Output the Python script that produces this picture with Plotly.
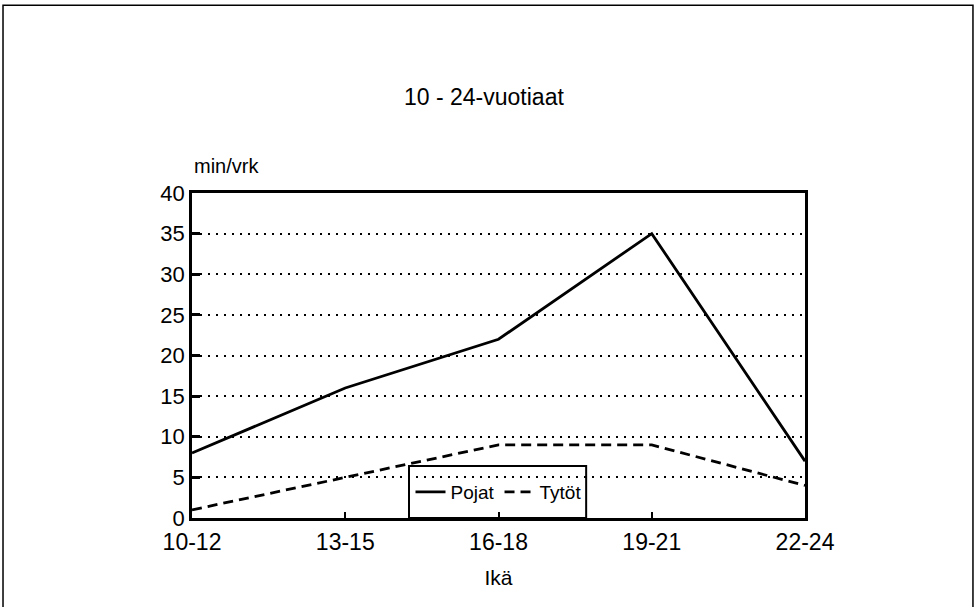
import plotly.graph_objects as go

ika = ["10-12", "13-15", "16-18", "19-21", "22-24"]
pojat = [8, 16, 22, 35, 7]
tytot = [1, 5, 9, 9, 4]
y_ticks = [0, 5, 10, 15, 20, 25, 30, 35, 40]

FONT = "Liberation Sans, Arial, sans-serif"

fig = go.Figure()
fig.add_trace(go.Scatter(x=ika, y=pojat, name="Pojat", mode="lines",
                         line=dict(color="black", width=2.8)))
fig.add_trace(go.Scatter(x=ika, y=tytot, name="Tytöt", mode="lines",
                         line=dict(color="black", width=2.8, dash="10px,6px")))

# legend box (white, covers grid)
fig.add_shape(type="rect", xref="paper", yref="paper", x0=0.354, x1=0.643, y0=0, y1=0.16,
              line=dict(color="black", width=2), fillcolor="white", layer="between")
# outer frame
fig.add_shape(type="rect", xref="paper", yref="paper", x0=-0.3083, x1=1.274, y0=-0.4, y1=1.578,
              line=dict(color="black", width=1.5), fillcolor="rgba(0,0,0,0)", layer="above")

fig.add_annotation(text="10 - 24-vuotiaat", xref="paper", yref="paper", x=0.476, y=1.295,
                   xanchor="center", yanchor="middle", showarrow=False,
                   font=dict(size=23, color="black", family=FONT))
fig.add_annotation(text="min/vrk", xref="paper", yref="paper", x=0.0, y=1.083,
                   xanchor="left", yanchor="middle", showarrow=False,
                   font=dict(size=20, color="black", family=FONT))

fig.update_layout(
    width=978, height=607,
    margin=dict(l=192, r=173, t=193, b=89),
    paper_bgcolor="white", plot_bgcolor="white",
    font=dict(family=FONT, color="black", size=21),
    showlegend=True,
    legend=dict(orientation="h", x=0.5, xanchor="center", y=0.08, yanchor="middle",
                bgcolor="rgba(0,0,0,0)", borderwidth=0, font=dict(size=19),
                itemwidth=30, tracegroupgap=0),
    xaxis=dict(type="category", range=[0, 4], showline=True, linecolor="black", linewidth=2.5,
               mirror=True, ticks="inside", ticklen=6, tickcolor="black", tickwidth=1.5,
               showgrid=False, zeroline=False, ticklabelstandoff=2,
               title=dict(text="Ikä", font=dict(size=21), standoff=16),
               tickfont=dict(size=23)),
    yaxis=dict(range=[0, 40], tickvals=y_ticks, showline=True, linecolor="black", linewidth=2.5,
               mirror=True, ticks="inside", ticklen=8, tickcolor="black", tickwidth=2.5,
               showgrid=True, gridcolor="black", gridwidth=2, griddash="2px,6px",
               zeroline=False, tickfont=dict(size=22)),
)

fig.write_html("out.html", config={"displayModeBar": False},
               post_script="document.body.style.margin='0';")
